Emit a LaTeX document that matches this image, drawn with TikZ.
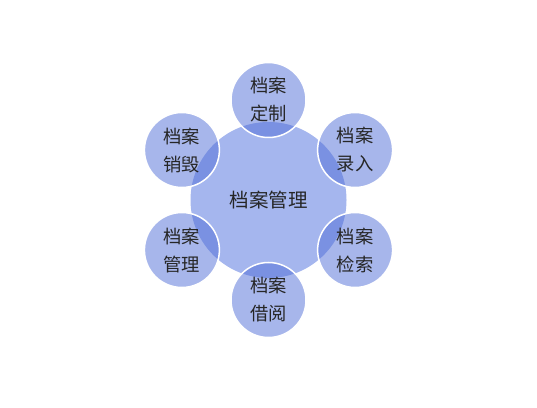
\documentclass[tikz,border=0pt]{standalone}
\usepackage{fontspec}
\setmainfont{Noto Sans CJK SC}
\usetikzlibrary{calc}
\begin{document}
\begin{tikzpicture}[x=1pt,y=1pt,
  hub/.style={circle,minimum size=156pt,inner sep=0pt,fill=hubfill,font=\fontsize{19.5}{22}\selectfont,text=black!85},
  sat/.style={circle,minimum size=75pt,inner sep=0pt,fill=satfill,fill opacity=0.5,text opacity=1,draw=white,line width=1.5pt,align=center,font=\fontsize{18.3}{28}\selectfont,text=black!85}]
\definecolor{hubfill}{RGB}{165,182,238}
\definecolor{satfill}{RGB}{80,110,215}
\useasboundingbox (0,0) rectangle (537,407);
\node[hub] (c) at (268.5,207) {档案管理};
\node[sat] (s1) at ($(c)+(90:100)$) {档案\\定制};
\node[sat] (s2) at ($(c)+(30:100)$) {档案\\录入};
\node[sat] (s3) at ($(c)+(-30:100)$) {档案\\检索};
\node[sat] (s4) at ($(c)+(-90:100)$) {档案\\借阅};
\node[sat] (s5) at ($(c)+(-150:100)$) {档案\\管理};
\node[sat] (s6) at ($(c)+(150:100)$) {档案\\销毁};
\end{tikzpicture}
\end{document}
